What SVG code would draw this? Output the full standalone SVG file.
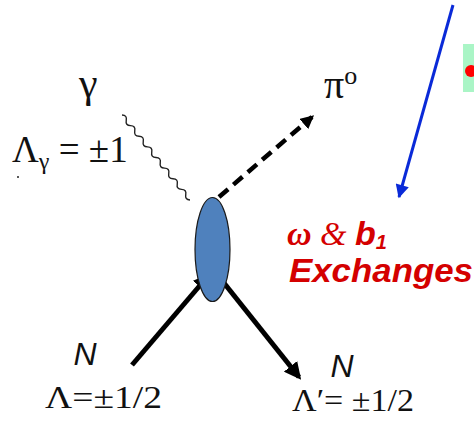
<svg xmlns="http://www.w3.org/2000/svg" width="474" height="423" viewBox="0 0 474 423">
<defs>
<style>
.ser{font-family:"Liberation Serif","DejaVu Serif",serif;fill:#111}
.sans{font-family:"Liberation Sans","DejaVu Sans",sans-serif;fill:#111}
.red{fill:#d40000;font-weight:bold;font-style:italic}
.thick{stroke:#000;stroke-width:5;fill:none}
</style>
<marker id="ahBlack" viewBox="0 0 10 10" refX="8" refY="5" markerWidth="3.4" markerHeight="3.4" markerUnits="strokeWidth" orient="auto"><path d="M0,0 L10,5 L0,10 z" fill="#000"/></marker>
<marker id="ahDash" viewBox="0 0 10 10" refX="8" refY="5" markerWidth="3" markerHeight="3" markerUnits="strokeWidth" orient="auto"><path d="M0,0 L10,5 L0,10 z" fill="#000"/></marker>
<marker id="ahBlue" viewBox="0 0 10 10" refX="9" refY="5" markerWidth="9" markerHeight="4.5" markerUnits="strokeWidth" orient="auto"><path d="M0,0 L10,5 L0,10 z" fill="#0a2ad8"/></marker>
</defs>
<rect width="474" height="423" fill="#fff"/>
<g id="connectors">
<path id="photon" d="M122,115 q5.24,0.16 4.25,5.31 t4.25,5.31 t4.25,5.31 t4.25,5.31 t4.25,5.31 t4.25,5.31 t4.25,5.31 t4.25,5.31 t4.25,5.31 t4.25,5.31 t4.25,5.31 t4.25,5.31 t4.25,5.31 t4.25,5.31 t4.25,5.31 t4.25,5.31" fill="none" stroke="#222" stroke-width="1.4"/>
<line id="pion" x1="219" y1="197" x2="312" y2="117" stroke="#000" stroke-width="4.5" stroke-dasharray="12,7" marker-end="url(#ahDash)"/>
<line id="n-in" class="thick" x1="132" y1="365" x2="208" y2="276" marker-end="url(#ahBlack)"/>
<line id="n-out" class="thick" x1="224" y1="283" x2="299" y2="377" marker-end="url(#ahBlack)"/>
<line id="pointer" x1="453" y1="5" x2="399" y2="197" stroke="#0a2ad8" stroke-width="3" marker-end="url(#ahBlue)"/>
</g>
<g id="vertex"><ellipse cx="212.5" cy="249.5" rx="17.5" ry="52" fill="#4f81bd" stroke="#1a1a1a" stroke-width="1.2"/></g>
<g id="photon-label">
<text class="ser" x="79" y="97" font-size="42">γ</text>
<text class="ser" x="12" y="162" font-size="37">Λ<tspan font-size="24" dy="7">γ</tspan><tspan dy="-7"> = ±1</tspan></text>
<circle cx="18" cy="177" r="1" fill="#222"/>
</g>
<g id="pion-label"><text class="ser" x="324" y="98" font-size="40">π<tspan font-size="26" dy="-14">o</tspan></text></g>
<g id="callout">
<rect x="463" y="44" width="11" height="48" fill="#aaf5c6"/>
<circle cx="471" cy="71" r="6" fill="#f00"/>
</g>
<g id="exchange-label">
<text class="red" x="287" y="245" font-size="34"><tspan font-family="Liberation Serif,serif">ω</tspan><tspan font-family="Liberation Serif,serif" font-weight="normal"> &amp; </tspan><tspan font-family="Liberation Sans,sans-serif">b</tspan><tspan font-family="Liberation Sans,sans-serif" font-size="20" dy="4">1</tspan></text>
<text class="sans red" x="289" y="282" font-size="34" textLength="184" lengthAdjust="spacingAndGlyphs">Exchanges</text>
</g>
<g id="n-initial">
<text class="sans" x="85" y="365" font-size="32" font-style="italic" text-anchor="middle">N</text>
<text class="ser" x="45" y="408" font-size="32" textLength="117" lengthAdjust="spacingAndGlyphs">Λ=±1/2</text>
</g>
<g id="n-final">
<text class="sans" x="342" y="377" font-size="32" font-style="italic" text-anchor="middle">N</text>
<text class="ser" x="292" y="411" font-size="32" textLength="122" lengthAdjust="spacingAndGlyphs">Λ′= ±1/2</text>
</g>
</svg>
